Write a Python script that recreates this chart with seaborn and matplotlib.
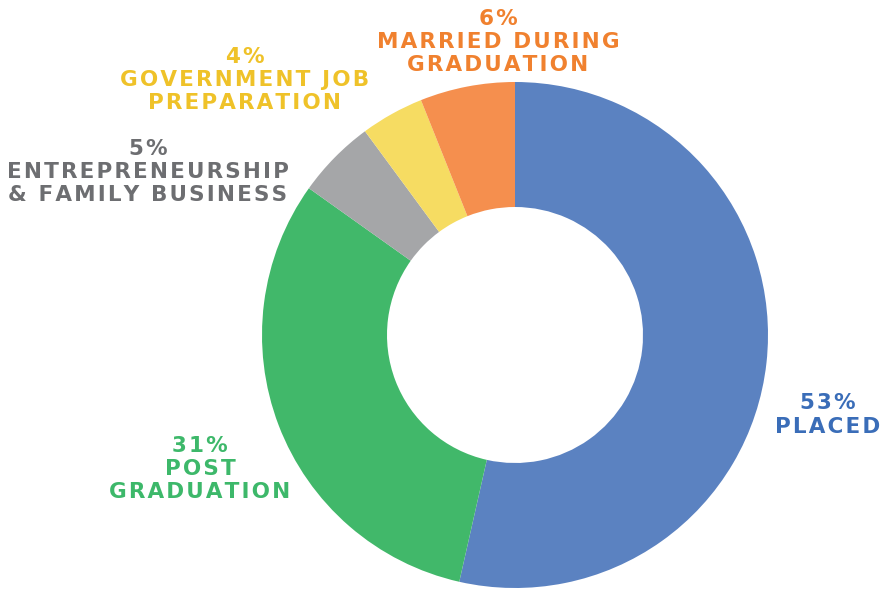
import matplotlib.pyplot as plt
import seaborn as sns

# data
categories = ['PLACED', 'POST\nGRADUATION', 'ENTREPRENEURSHIP\n& FAMILY BUSINESS',
              'GOVERNMENT JOB\nPREPARATION', 'MARRIED DURING\nGRADUATION']
shares = [53, 31, 5, 4, 6]

wedge_colors = ['#5B82C1', '#41B86A', '#A5A6A8', '#F6DC62', '#F58F4E']
text_colors = ['#3A6DB8', '#3DB86A', '#6D6E71', '#EFC229', '#F0812F']
# label block centres in pixel coords (from bottom-left)
label_pos = [(828, 176), (200, 122), (148, 419), (245, 511), (498, 549)]

sns.set_style('white')
plt.rcParams['font.family'] = ['DejaVu Sans']


def spaced(s):
    # wide tracking like the original poster font
    return '\n'.join('\u200a'.join(line) for line in s.split('\n'))


fig = plt.figure(figsize=(8.81, 5.91), dpi=100)
ax = fig.add_axes([0, 0, 1, 1])

ax.pie(shares,
       colors=wedge_colors,
       startangle=90,
       counterclock=False,
       center=(515, 256),
       radius=253,
       wedgeprops={'width': 125, 'linewidth': 0})

for cat, val, col, (x, y) in zip(categories, shares, text_colors, label_pos):
    ax.text(x, y, spaced(f'{val}%\n{cat}'),
            ha='center', va='center',
            multialignment='center',
            color=col, fontsize=15.5, fontweight='bold',
            linespacing=1.2)

ax.set_xlim(0, 881)
ax.set_ylim(0, 591)
ax.set_aspect('equal')
ax.axis('off')

plt.savefig('out.png', dpi=100)
